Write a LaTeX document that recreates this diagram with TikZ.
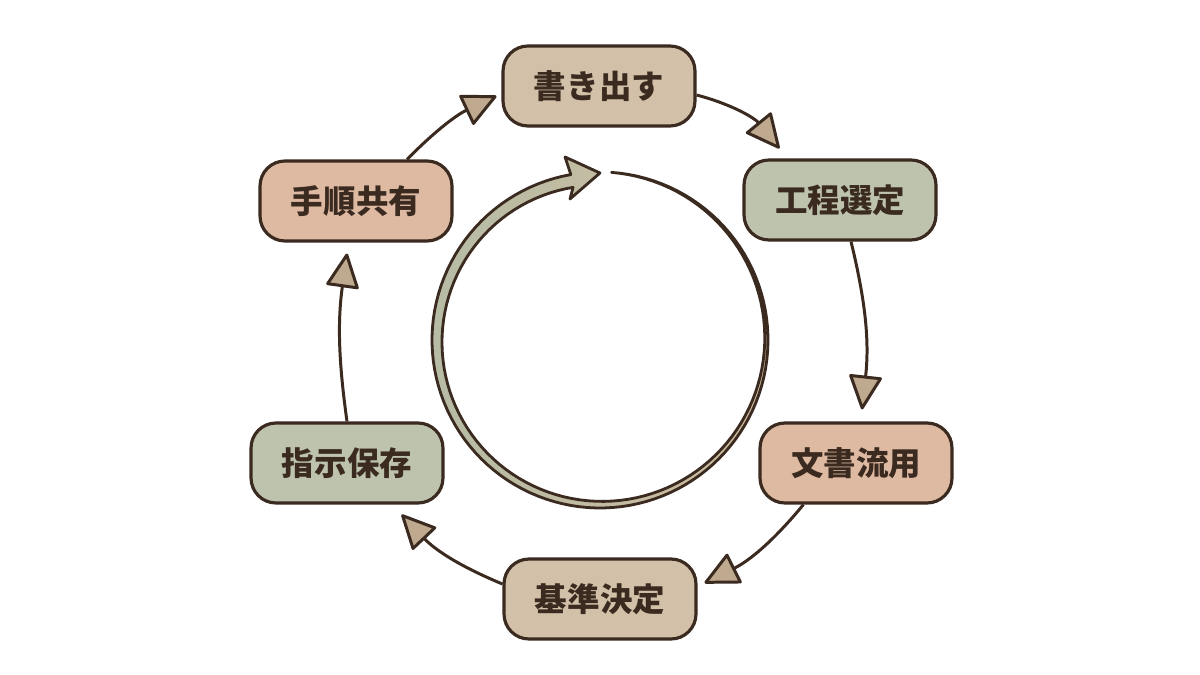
\documentclass[tikz,border=0pt]{standalone}
\usepackage{fontspec}
\usepackage{tikz}
\usepackage{xcolor}
\usetikzlibrary{arrows.meta,calc}
\newfontfamily\cjk{Noto Sans CJK JP}
\definecolor{ink}{HTML}{3A2A1F}
\definecolor{boxtan}{HTML}{D2C1A8}
\definecolor{boxsage}{HTML}{BEC3AE}
\definecolor{boxclay}{HTML}{DEBAA3}
\definecolor{headtan}{HTML}{BFA98F}
\definecolor{ringsage}{HTML}{B7BCA5}
\definecolor{ringtan}{HTML}{CDBB9E}

\begin{document}
\begin{tikzpicture}[
          x=0.02cm, y=-0.02cm,
          box/.style={draw=ink, line width=1.8pt, rounded corners=0.5cm, minimum width=3.84cm, minimum height=1.6cm, align=center, text=ink, font=\cjk\bfseries\fontsize{18.5}{20}\selectfont},
          conn/.style={-{Triangle[length=0.72cm, width=0.68cm, round, fill=headtan]}, draw=ink, line width=1.7pt},
          ring/.style={draw=ink, line width=1.6pt, line join=round, left color=ringsage, right color=ringtan}
      ]
        \useasboundingbox (0,0) rectangle (1200,675);
        \node[box, fill=boxtan] (write) at (599,86) {書き出す};
        \node[box, fill=boxsage] (pick) at (840,200) {工程選定};
        \node[box, fill=boxclay] (reuse) at (856,463) {文書流用};
        \node[box, fill=boxtan] (rule) at (600,599) {基準決定};
        \node[box, fill=boxsage] (keep) at (347,463) {指示保存};
        \node[box, fill=boxclay] (share) at (356,201) {手順共有};
        \draw[conn] ($(write.east)+(0,9)$) to[bend left=18] ($(pick.north west)+(37,-10)$);
        \draw[conn] ($(pick.south)+(11,0)$) to[bend left=10] ($(reuse.north)+(6,-12)$);
        \draw[conn] ($(reuse.south west)+(45,0)$) to[bend left=12] ($(rule.east)+(7,-16)$);
        \draw[conn] ($(rule.west)+(0,-15)$) to[bend left=12] ($(keep.south east)+(-43,10)$);
        \draw[conn] (keep.north) to[bend left=8] ($(share.south)+(-9,11)$);
        \draw[conn] ($(share.north)+(51,0)$) to[bend left=10] ($(write.west)+(-5,10)$);
        \draw[ring] plot[domain=86:-260, samples=120] ({600+168*cos(\x)}, {340-168*sin(\x)})
          -- (565,157) -- (600,173) -- (570,199)
          -- plot[domain=-260:86, samples=120] ({600+(155+13*(\x+260)/346)*cos(\x)}, {340-(155+13*(\x+260)/346)*sin(\x)})
          -- cycle;
      \end{tikzpicture}
\end{document}
